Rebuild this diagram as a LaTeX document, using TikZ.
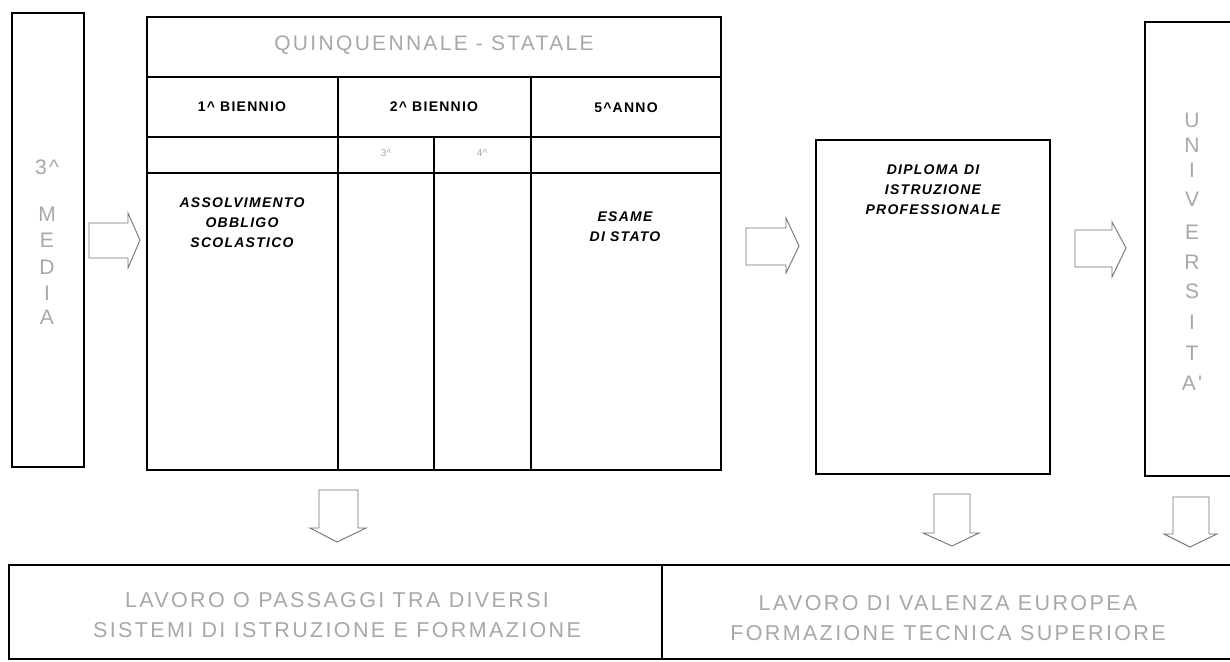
\documentclass[tikz,border=0pt]{standalone}
\usepackage{fontspec}
\setmainfont{Liberation Sans}
\newfontfamily\greyfont[LetterSpace=11]{Liberation Sans}
\newfontfamily\lblfont[LetterSpace=9]{Liberation Sans}
\definecolor{faint}{gray}{0.66}
\begin{document}
\begin{tikzpicture}[x=1pt,y=-1pt,
  box/.style={draw=black, line width=1.6pt},
  barrow/.style={draw=black!55, line width=0.9pt, line join=miter},
  greytxt/.style={text=faint, font=\greyfont\fontsize{21.5}{30}\selectfont, align=center, inner sep=0pt},
  titletxt/.style={text=faint, font=\greyfont\fontsize{21}{21}\selectfont, inner sep=0pt},
  vlet/.style={text=faint, font=\greyfont\fontsize{21}{21}\selectfont, inner sep=0pt},
  hdr/.style={font=\lblfont\bfseries\fontsize{14}{14}\selectfont, inner sep=0pt},
  emphtxt/.style={font=\lblfont\bfseries\itshape\fontsize{14}{20}\selectfont, align=center, inner sep=0pt},
  smalltxt/.style={text=faint, font=\fontsize{10}{10}\selectfont, inner sep=0pt}]
\useasboundingbox (0,0) rectangle (1230,661);
\fill[white] (0,0) rectangle (1230,661);

% 3^ MEDIA box
\draw[box] (12,13) rectangle (84,467);
\node[vlet] (m0) at (47,167) {3\textasciicircum};
\foreach \l/\yy [count=\i] in {M/214,E/240,D/267,I/293,A/317}
  \node[vlet] (m\i) at (47,\yy) {\l};

% main table
\draw[box] (147,17) rectangle (721,470);
\draw[box] (147,77) -- (721,77);
\draw[box] (147,137) -- (721,137);
\draw[box] (147,173) -- (721,173);
\draw[box] (338,77) -- (338,470);
\draw[box] (531,77) -- (531,470);
\draw[box] (434,137) -- (434,470);

\node[titletxt] (title) at (434,45) {QUINQUENNALE - STATALE};
\node[hdr] (b1) at (242,107) {1\textasciicircum\ BIENNIO};
\node[hdr] (b2) at (434,107) {2\textasciicircum\ BIENNIO};
\node[hdr] (b5) at (626,108) {5\textasciicircum ANNO};
\node[smalltxt] (y3) at (386,153) {3\textasciicircum};
\node[smalltxt] (y4) at (482,153) {4\textasciicircum};
\node[emphtxt] (obb) at (242,223) {ASSOLVIMENTO\\OBBLIGO\\SCOLASTICO};
\node[emphtxt] (esame) at (625,227) {ESAME\\DI STATO};

% diploma box
\draw[box] (816,140) rectangle (1050,474);
\node[emphtxt] (dipl) at (933,190) {DIPLOMA DI\\ISTRUZIONE\\PROFESSIONALE};

% universita box
\draw[box] (1240,22) -- (1145,22) -- (1145,476) -- (1240,476);
\foreach \l/\yy [count=\i] in {U/120,N/145,I/170,V/199,E/232,R/262,S/291,I/322,T/353,A'/383}
  \node[vlet] (u\i) at (1192,\yy) {\l};

% right arrows
\draw[barrow] (89,223) -- (128,223) -- (128,213) -- (140,240) -- (128,268) -- (128,258) -- (89,258) -- cycle;
\draw[barrow] (746,228) -- (786,228) -- (786,218) -- (799,246) -- (786,273) -- (786,265) -- (746,265) -- cycle;
\draw[barrow] (1075,230) -- (1112,230) -- (1112,222) -- (1126,248) -- (1112,277) -- (1112,267) -- (1075,267) -- cycle;

% down arrows
\draw[barrow] (319,490) -- (358,490) -- (358,528) -- (366,528) -- (337,542) -- (310,528) -- (319,528) -- cycle;
\draw[barrow] (934,494) -- (970,494) -- (970,533) -- (979,533) -- (952,546) -- (923,533) -- (934,533) -- cycle;
\draw[barrow] (1173,497) -- (1209,497) -- (1209,534) -- (1217,534) -- (1190,547) -- (1164,534) -- (1173,534) -- cycle;

% bottom box
\draw[box] (1240,565) -- (9,565) -- (9,659) -- (1240,659);
\draw[box] (662,565) -- (662,659);
\node[greytxt] (lav1) at (337,615) {LAVORO O PASSAGGI TRA DIVERSI\\SISTEMI DI ISTRUZIONE E FORMAZIONE};
\node[greytxt] (lav2) at (948,618) {LAVORO DI VALENZA EUROPEA\\FORMAZIONE TECNICA SUPERIORE};
\end{tikzpicture}
\end{document}
